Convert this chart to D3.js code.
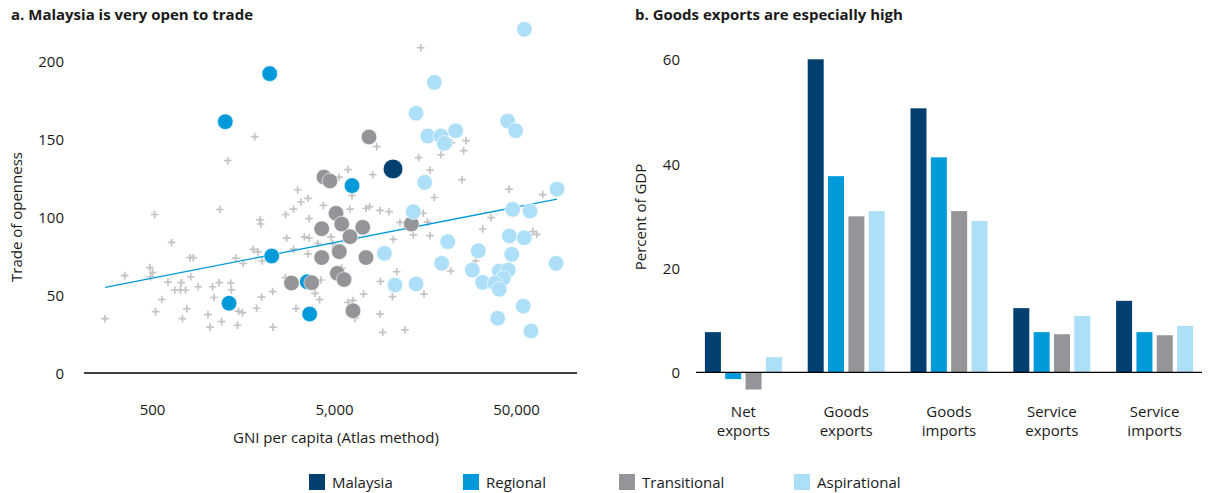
<!DOCTYPE html>
<html lang="en">
    <head>
        <meta charset="UTF-8">
        <script src="https://cdn.jsdelivr.net/npm/d3@7/dist/d3.min.js"></script>
        <title>Malaysia trade</title>
        <style>
            body { margin: 0; background: #fff; }
            text { font-family: "Open Sans", Lato, sans-serif; fill: #1a1a1a; }
            .title { font-weight: bold; font-size: 15px; }
            .tick text { font-size: 15px; }
        </style>
    </head>
    <body>
        <script type="text/javascript">
            // ---- data: panel a (GNI per capita, trade openness) ----
            var malaysia = [[10550, 130.8]];
            var regional = [[2217, 191.9], [1264, 161.1], [6280, 120.1], [2274, 75.0], [1325, 44.7], [3565, 58.5], [3675, 37.8]];
            var transitional = [[4405, 125.6], [4750, 123.1], [7785, 151.3], [13300, 95.5], [5130, 102.4], [5512, 95.5],
                [4280, 92.5], [7190, 93.4], [6121, 87.4], [5347, 77.8], [4280, 74.0], [7496, 74.0], [5216, 63.9],
                [5674, 59.9], [2920, 57.7], [3771, 57.9], [6359, 39.9]];
            var aspirational = [[55560, 220.3], [17800, 186.3], [14120, 166.5], [16370, 151.9], [19370, 151.9], [20180, 147.2],
                [23300, 155.3], [45000, 161.5], [49800, 155.3], [15740, 122.2], [84000, 117.9], [13640, 103.4], [47960, 104.9],
                [59700, 103.8], [21080, 84.2], [9460, 76.7], [45950, 87.8], [55560, 86.7], [31040, 78.4], [47360, 76.1],
                [83000, 70.3], [19530, 70.3], [28770, 66.0], [40470, 65.4], [45360, 66.0], [42570, 60.7], [32810, 58.1],
                [38330, 57.5], [40470, 53.7], [10820, 56.4], [14120, 57.1], [54800, 42.9], [39650, 35.1], [60450, 26.9]];
            var otherCountries = [[1833, 151.5], [1303, 136.1], [14970, 208.5], [3158, 117.3], [3599, 112.0], [8582, 145.1],
                [26560, 148.9], [25800, 142.5], [22170, 147.6], [14600, 138.0], [19360, 139.9], [5970, 130.4], [5327, 125.6],
                [8160, 127.1], [16840, 130.1], [25250, 123.9], [45760, 117.9], [70100, 114.4], [17790, 112.5], [6280, 113.8],
                [3293, 109.6], [2995, 105.1], [2714, 101.6], [1961, 98.1], [1978, 95.5], [3645, 98.9], [4367, 107.4],
                [6121, 105.1], [7496, 105.6], [7836, 106.6], [8947, 104.2], [10030, 103.4], [11520, 96.5], [2748, 86.5],
                [3434, 87.2], [3645, 86.5], [4813, 87.2], [4069, 83.0], [4918, 82.7], [1801, 79.2], [1911, 77.6], [3003, 79.4],
                [3599, 76.3], [1588, 70.2], [10590, 85.6], [11050, 64.9], [9004, 58.7], [10480, 48.9], [7264, 50.6],
                [5970, 45.2], [6359, 46.5], [5512, 67.3], [4242, 59.6], [2707, 61.2], [3932, 51.1], [4163, 47.0],
                [2302, 52.2], [2003, 48.7], [1876, 41.5], [3092, 41.3], [1494, 39.6], [1572, 38.7], [8947, 37.8],
                [517, 101.6], [1179, 104.8], [641, 83.7], [809, 73.9], [843, 73.9], [1442, 73.7], [354, 62.4], [487, 67.6],
                [503, 64.4], [491, 61.7], [816, 61.7], [612, 58.3], [724, 57.9], [667, 53.2], [717, 53.2], [764, 53.2],
                [897, 55.3], [1075, 55.3], [1170, 57.9], [1353, 57.7], [1367, 53.2], [566, 47.1], [1095, 48.4], [523, 39.3],
                [777, 41.2], [735, 34.8], [1015, 37.4], [276, 34.8], [1208, 32.9], [1041, 29.4], [1475, 30.6], [2311, 29.4],
                [2018, 71.8], [15470, 102.4], [36450, 99.6], [16320, 96.7], [32810, 92.3], [13640, 88.5], [16840, 88.0],
                [61800, 90.6], [64990, 88.9], [21880, 65.4], [30030, 71.8], [15610, 50.6], [6521, 35.1], [9259, 26.1],
                [12270, 27.6]];
            var trendLine = [[276, 54.9], [84000, 111.5]];
            var gniTicks = [500, 5000, 50000];
            var opennessTicks = [0, 50, 100, 150, 200];

            // ---- data: panel b (percent of GDP) ----
            var categories = ["Net exports", "Goods exports", "Goods imports", "Service exports", "Service imports"];
            var categoryLines = [["Net", "exports"], ["Goods", "exports"], ["Goods", "imports"], ["Service", "exports"], ["Service", "imports"]];
            var seriesNames = ["Malaysia", "Regional", "Transitional", "Aspirational"];
            var malaysiaBars = [7.7, 60.0, 50.6, 12.3, 13.7];
            var regionalBars = [-1.3, 37.6, 41.2, 7.7, 7.7];
            var transitionalBars = [-3.3, 29.9, 30.9, 7.3, 7.1];
            var aspirationalBars = [2.9, 30.9, 29.0, 10.8, 8.9];
            var gdpTicks = [0, 20, 40, 60];

            var colors = { Malaysia: "#003f6f", Regional: "#0099da", Transitional: "#939598", Aspirational: "#ade0f8" };

            var svg = d3.select("body").append("svg")
                .attr("width", 1210)
                .attr("height", 493);

            // ================= panel a =================
            var x = d3.scaleLog().domain([500, 50000]).range([152, 516]);
            var y = d3.scaleLinear().domain([0, 200]).range([373, 61]);

            svg.append("text").attr("class", "title").attr("x", 11).attr("y", 20)
                .text("a. Malaysia is very open to trade");

            // y axis labels only
            var yAxis = svg.append("g")
                .attr("transform", "translate(64,0)")
                .call(d3.axisLeft(y).tickValues(opennessTicks).tickSize(0).tickPadding(0));
            yAxis.select(".domain").remove();
            yAxis.selectAll("text").attr("dy", "0.36em");

            // x axis
            var xAxis = svg.append("g")
                .attr("transform", "translate(0,373)")
                .call(d3.axisBottom(x).tickValues(gniTicks).tickSize(0).tickPadding(31).tickFormat(d3.format(",")));
            xAxis.select(".domain").remove();
            svg.append("line").attr("x1", 84).attr("x2", 577).attr("y1", 373).attr("y2", 373)
                .attr("stroke", "#000").attr("stroke-width", 1.3);

            svg.append("text").attr("x", 336).attr("y", 443).attr("text-anchor", "middle")
                .style("font-size", "15px").text("GNI per capita (Atlas method)");
            svg.append("text").attr("transform", "translate(22,217) rotate(-90)").attr("text-anchor", "middle")
                .style("font-size", "15px").text("Trade of openness");

            // other countries as crosses
            svg.append("g").selectAll("path")
                .data(otherCountries).enter().append("path")
                .attr("d", "M-3.8,0H3.8M0,-3.8V3.8")
                .attr("transform", function(d){ return "translate(" + x(d[0]) + "," + y(d[1]) + ")"; })
                .attr("stroke", "#c3c3c3")
                .attr("stroke-width", 1.7)
                .attr("fill", "none");

            // fitted line
            svg.append("path")
                .datum(trendLine)
                .attr("d", d3.line().x(function(d){ return x(d[0]); }).y(function(d){ return y(d[1]); }))
                .attr("stroke", "#0099da").attr("stroke-width", 1.3).attr("fill", "none");

            function dots(data, name, r){
                svg.append("g").selectAll("circle")
                    .data(data).enter().append("circle")
                    .attr("cx", function(d){ return x(d[0]); })
                    .attr("cy", function(d){ return y(d[1]); })
                    .attr("r", r)
                    .attr("fill", colors[name])
                    .attr("stroke", "#fff").attr("stroke-width", 0.6);
            }
            dots(regional, "Regional", 7.8);
            dots(transitional, "Transitional", 7.8);
            dots(aspirational, "Aspirational", 7.8);
            dots(malaysia, "Malaysia", 9.8);

            // ================= panel b =================
            var barSeries = [malaysiaBars, regionalBars, transitionalBars, aspirationalBars];
            var x0 = d3.scaleBand().domain(categories).range([692, 1206]);
            var x1 = d3.scaleBand().domain(seriesNames).range([12.9, 89.9]).paddingInner(0.213);
            var yb = d3.scaleLinear().domain([0, 60]).range([372.3, 59.3]);

            svg.append("text").attr("class", "title").attr("x", 635).attr("y", 20)
                .text("b. Goods exports are especially high");

            var ybAxis = svg.append("g")
                .attr("transform", "translate(680,0)")
                .call(d3.axisLeft(yb).tickValues(gdpTicks).tickSize(0).tickPadding(0));
            ybAxis.select(".domain").remove();
            ybAxis.selectAll("text").attr("dy", "0.36em");

            svg.append("text").attr("transform", "translate(646,217) rotate(-90)").attr("text-anchor", "middle")
                .style("font-size", "15px").text("Percent of GDP");

            var groups = svg.append("g").selectAll("g")
                .data(categories).enter().append("g")
                .attr("transform", function(c){ return "translate(" + x0(c) + ",0)"; });

            groups.selectAll("rect")
                .data(function(c, i){
                    return seriesNames.map(function(s, j){ return { name: s, value: barSeries[j][i] }; });
                })
                .enter().append("rect")
                .attr("x", function(d){ return x1(d.name); })
                .attr("width", x1.bandwidth())
                .attr("y", function(d){ return yb(Math.max(0, d.value)); })
                .attr("height", function(d){ return Math.abs(yb(d.value) - yb(0)); })
                .attr("fill", function(d){ return colors[d.name]; });

            svg.append("line").attr("x1", 696).attr("x2", 1202).attr("y1", yb(0)).attr("y2", yb(0))
                .attr("stroke", "#000").attr("stroke-width", 1.3);

            groups.append("text")
                .attr("text-anchor", "middle")
                .style("font-size", "15px")
                .selectAll("tspan")
                .data(function(c, i){ return categoryLines[i]; })
                .enter().append("tspan")
                .attr("x", x0.bandwidth() / 2)
                .attr("y", function(d, i){ return 416.5 + i * 19; })
                .text(function(d){ return d; });

            // ================= legend =================
            var legendX = [309, 463, 619, 794];
            var legend = svg.append("g").selectAll("g")
                .data(seriesNames).enter().append("g")
                .attr("transform", function(d, i){ return "translate(" + legendX[i] + ",474)"; });
            legend.append("rect").attr("width", 16).attr("height", 16)
                .attr("fill", function(d){ return colors[d]; });
            legend.append("text").attr("x", 23).attr("y", 13.5)
                .style("font-size", "15px").text(function(d){ return d; });
        </script>
    </body>
</html>
